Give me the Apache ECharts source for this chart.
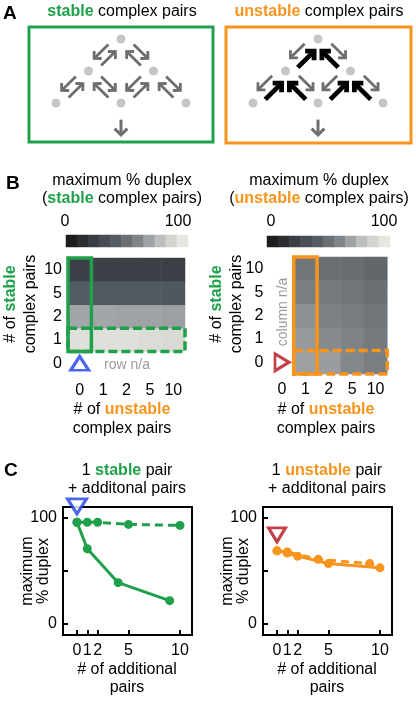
<!DOCTYPE html>
<html><head><meta charset="utf-8">
<script src="https://cdn.jsdelivr.net/npm/echarts@6/dist/echarts.min.js"></script>
<style>html,body{margin:0;padding:0;background:#fff}#c{width:416px;height:702px}</style>
</head><body><div id="c"></div>
<script>
// ---------- data ----------
const pairCats = ['0', '1', '2', '5', '10'];          // # of pairs (heatmap categories)
const stableRowsLeft = [1, 2, 5, 10];                   // stable counts shown in left heatmap
const unstableColsLeft = [0, 1, 2, 5, 10];
const stableMaxDuplex = [                               // rows: stable 1,2,5,10 ; cols: unstable 0,1,2,5,10
  [96, 96, 96, 94, 93],
  [71, 71, 70, 70, 69],
  [39, 38, 38, 38, 37],
  [22, 22, 22, 21, 21]
];
const stableRowsRight = [0, 1, 2, 5, 10];
const unstableColsRight = [1, 2, 5, 10];
const unstableMaxDuplex = [                             // rows: stable 0,1,2,5,10 ; cols: unstable 1,2,5,10
  [69, 68, 61, 57],
  [67, 62, 59, 55],
  [64, 58, 56, 53],
  [57, 55, 53, 50],
  [53, 50, 49, 46]
];
const colorbarValues = [0, 10, 20, 30, 40, 50, 60, 70, 80, 90, 100];
const additionalTicks = [0, 1, 2, 5, 10];
const yTicks = [0, 50, 100];
const yLabels = [0, 100];
const markerStableC = [0, 111];
const markerUnstableC = [0, 84];
// schematic tree (level layout)
const treeNodes = [[0, 0], [-1, 1], [1, 1], [-2, 2], [0, 2], [2, 2]];
const treeEdges = [[0, 1], [0, 2], [1, 3], [1, 4], [2, 4], [2, 5]];
const outflow = [0, 2.52, 0, 3.0];

// ---------- styles ----------
const FF = '"Liberation Sans", Arial, sans-serif';
const GREEN = '#1fa04a', ORANGE = '#f7941d', BLUE = '#1e40e6', DRED = '#b3121c';
const GRAY_ARROW = '#6e6e6e', DOT = '#b8b8b8';
const grayScale = ['#1e1e1e', '#2b2d30', '#3a3e44', '#484d54', '#555b62', '#6a6f73', '#80858a', '#a0a3a5', '#bdbfbe', '#d4d5d0', '#e7e7df'];
const RICH = {
  g: { fill: GREEN, fontWeight: 'bold', fontSize: 16, fontFamily: FF },
  o: { fill: ORANGE, fontWeight: 'bold', fontSize: 16, fontFamily: FF }
};
function T(text, x, y, extra, rot) {
  return { type: 'text', x: x, y: y, rotation: rot || 0, z: 100,
    style: Object.assign({ text: text, fill: '#000', fontSize: 16, fontFamily: FF, align: 'center', verticalAlign: 'middle', rich: RICH }, extra || {}) };
}

// ---------- derived series data ----------
const heatLeft = [];
stableMaxDuplex.forEach((row, r) => row.forEach((v, c) => heatLeft.push([pairCats.indexOf(String(unstableColsLeft[c])), pairCats.indexOf(String(stableRowsLeft[r])), v])));
const heatRight = [];
unstableMaxDuplex.forEach((row, r) => row.forEach((v, c) => heatRight.push([pairCats.indexOf(String(unstableColsRight[c])), pairCats.indexOf(String(stableRowsRight[r])), v])));
const cbarData = colorbarValues.map((v, i) => [i, 0, v]);
// left: solid = add stable pairs (column unstable=0), dashed = add unstable pairs (row stable=1)
const leftSolid = stableRowsLeft.map((s, r) => [s - 1, stableMaxDuplex[r][0]]);
const leftDashed = unstableColsLeft.map((u, c) => [u, stableMaxDuplex[0][c]]);
// right: solid = add stable pairs (column unstable=1), dashed = add unstable pairs (row stable=0)
const rightSolid = stableRowsRight.map((s, r) => [s, unstableMaxDuplex[r][0]]);
const rightDashed = unstableColsRight.map((u, c) => [u - 1, unstableMaxDuplex[0][c]]);

function arrowItems(kind) {
  const d = treeEdges.map(e => [treeNodes[e[0]][0], treeNodes[e[0]][1], treeNodes[e[1]][0], treeNodes[e[1]][1], kind]);
  d.push(outflow.concat([2]));
  return d;
}

// ---------- arrow rendering ----------
function arrowShapes(tail, tip, color, w, hl) {
  const dx = tip[0] - tail[0], dy = tip[1] - tail[1], len = Math.hypot(dx, dy);
  const ux = dx / len, uy = dy / len;
  const rot = (a) => [ux * Math.cos(a) - uy * Math.sin(a), ux * Math.sin(a) + uy * Math.cos(a)];
  const r1 = rot(Math.PI / 4), r2 = rot(-Math.PI / 4);
  const h1 = [tip[0] - hl * r1[0], tip[1] - hl * r1[1]];
  const h2 = [tip[0] - hl * r2[0], tip[1] - hl * r2[1]];
  const shaftEnd = [tip[0] - ux * w * 0.5, tip[1] - uy * w * 0.5];
  return [
    { type: 'polyline', shape: { points: [tail, shaftEnd] }, style: { stroke: color, lineWidth: w, fill: null } },
    { type: 'polyline', shape: { points: [h1, tip, h2] }, style: { stroke: color, lineWidth: w, fill: null, lineJoin: 'miter' } }
  ];
}
function renderArrows(params, api) {
  const p = api.coord([api.value(0), api.value(1)]);
  const c = api.coord([api.value(2), api.value(3)]);
  const kind = api.value(4);
  let children = [];
  if (kind === 2) {
    children = arrowShapes(p, c, GRAY_ARROW, 3, 9);
  } else {
    const mx = (p[0] + c[0]) / 2, my = (p[1] + c[1]) / 2;
    const dx = c[0] - p[0], dy = c[1] - p[1], len = Math.hypot(dx, dy);
    const ux = dx / len, uy = dy / len;
    let nx = uy, ny = -ux; if (ny > 0) { nx = -nx; ny = -ny; }
    const gL = 20, off = kind === 1 ? 6 : 5;
    // away from root (gray, outer side)
    const ac = [mx + nx * off, my + ny * off];
    children = children.concat(arrowShapes([ac[0] - ux * gL / 2, ac[1] - uy * gL / 2], [ac[0] + ux * gL / 2, ac[1] + uy * gL / 2], GRAY_ARROW, 2.8, 7.5));
    // toward root
    const tL = kind === 1 ? 23 : gL;
    const tc = [mx - nx * off, my - ny * off];
    const col = kind === 1 ? '#000' : GRAY_ARROW, w = kind === 1 ? 4.8 : 2.8, hl = kind === 1 ? 9 : 7.5;
    children = children.concat(arrowShapes([tc[0] + ux * tL / 2, tc[1] + uy * tL / 2], [tc[0] - ux * tL / 2, tc[1] - uy * tL / 2], col, w, hl));
  }
  return { type: 'group', children: children };
}
function renderBoxes(color) {
  return function (params, api) {
    const c0 = api.value(0), c1 = api.value(1), r0 = api.value(2), r1 = api.value(3), dashed = api.value(4);
    const tl = api.coord([c0, r1]), br = api.coord([c1, r0]), sz = api.size([1, 1]);
    return { type: 'rect', z2: 10,
      shape: { x: tl[0] - sz[0] / 2, y: tl[1] - sz[1] / 2, width: br[0] - tl[0] + sz[0], height: br[1] - tl[1] + sz[1] },
      style: { fill: 'none', stroke: color, lineWidth: 3.5, lineDash: dashed ? [9, 4] : null } };
  };
}

// ---------- axes ----------
const hidden = { show: false };
function schemX(g) { return { gridIndex: g, type: 'value', min: -2.5, max: 2.5, show: false }; }
function schemY(g) { return { gridIndex: g, type: 'value', min: -0.5, max: 3, inverse: true, show: false }; }
function cbarX(g) { return { gridIndex: g, type: 'category', data: colorbarValues.map(String), show: false }; }
function cbarY(g) { return { gridIndex: g, type: 'category', data: ['c'], show: false }; }
function heatAxis(g, margin) {
  return { gridIndex: g, type: 'category', data: pairCats, axisLine: hidden, axisTick: hidden, splitLine: hidden,
    axisLabel: { fontSize: 16, color: '#000', fontFamily: FF, margin: margin } };
}
function cX(g) {
  return { gridIndex: g, type: 'value', min: -1.36, max: 11.17, splitLine: hidden,
    axisLine: { show: false, onZero: false },
    axisTick: { show: true, inside: true, length: 5, lineStyle: { color: '#000', width: 2 }, customValues: additionalTicks },
    axisLabel: { fontSize: 16, color: '#000', fontFamily: FF, margin: 8, customValues: additionalTicks, hideOverlap: false } };
}
function cY(g) {
  return { gridIndex: g, type: 'value', min: -10.4, max: 110.4, splitLine: hidden,
    axisLine: { show: false, onZero: false },
    axisTick: { show: true, inside: true, length: 5, lineStyle: { color: '#000', width: 2 }, customValues: yTicks },
    axisLabel: { fontSize: 16, color: '#000', fontFamily: FF, margin: 6, customValues: yLabels } };
}
const G = (l, t, w, h, extra) => Object.assign({ left: l, top: t, width: w, height: h, outerBoundsMode: 'none', containLabel: false }, extra || {});

const option = {
  animation: false,
  backgroundColor: '#fff',
  textStyle: { fontFamily: FF },
  grid: [
    G(39.75, 23, 162.5, 112), G(236.75, 23, 162.5, 112),
    G(66, 235, 122, 12), G(267, 236, 123, 11),
    G(68, 258, 117, 117), G(270.3, 257, 117, 117),
    G(63, 507, 129, 128, { show: true, borderColor: '#000', borderWidth: 2, backgroundColor: 'transparent' }),
    G(263, 507, 129, 128, { show: true, borderColor: '#000', borderWidth: 2, backgroundColor: 'transparent' })
  ],
  xAxis: [schemX(0), schemX(1), cbarX(2), cbarX(3), heatAxis(4, 8), heatAxis(5, 8), cX(6), cX(7)],
  yAxis: [schemY(0), schemY(1), cbarY(2), cbarY(3), heatAxis(4, 6), heatAxis(5, 7), cY(6), cY(7)],
  visualMap: { type: 'continuous', show: false, min: 0, max: 100, seriesIndex: [4, 5, 6, 7], inRange: { color: grayScale } },
  series: [
    { type: 'scatter', xAxisIndex: 0, yAxisIndex: 0, data: treeNodes, symbolSize: 9, itemStyle: { color: DOT }, silent: true },
    { type: 'custom', xAxisIndex: 0, yAxisIndex: 0, data: arrowItems(0), renderItem: renderArrows, encode: { x: [0, 2], y: [1, 3] }, silent: true },
    { type: 'scatter', xAxisIndex: 1, yAxisIndex: 1, data: treeNodes, symbolSize: 9, itemStyle: { color: DOT }, silent: true },
    { type: 'custom', xAxisIndex: 1, yAxisIndex: 1, data: arrowItems(1), renderItem: renderArrows, encode: { x: [0, 2], y: [1, 3] }, silent: true },
    { type: 'heatmap', xAxisIndex: 2, yAxisIndex: 2, data: cbarData, silent: true },
    { type: 'heatmap', xAxisIndex: 3, yAxisIndex: 3, data: cbarData, silent: true },
    { type: 'heatmap', xAxisIndex: 4, yAxisIndex: 4, data: heatLeft, silent: true },
    { type: 'heatmap', xAxisIndex: 5, yAxisIndex: 5, data: heatRight, silent: true },
    { type: 'custom', xAxisIndex: 4, yAxisIndex: 4, z: 5, data: [[0, 0, 1, 4, 0], [0, 4, 1, 1, 1]], renderItem: renderBoxes(GREEN), encode: { x: [0, 1], y: [2, 3] }, silent: true },
    { type: 'custom', xAxisIndex: 5, yAxisIndex: 5, z: 5, data: [[1, 1, 0, 4, 0], [1, 4, 0, 0, 1]], renderItem: renderBoxes(ORANGE), encode: { x: [0, 1], y: [2, 3] }, silent: true },
    { type: 'scatter', xAxisIndex: 4, yAxisIndex: 4, z: 6, data: [[0, 0]], symbol: 'triangle', symbolSize: [18, 14], itemStyle: { color: '#fff', borderColor: BLUE, borderWidth: 3 }, silent: true },
    { type: 'scatter', xAxisIndex: 5, yAxisIndex: 5, z: 6, data: [[0, 0]], symbol: 'triangle', symbolRotate: -90, symbolSize: [17, 14], itemStyle: { color: '#fff', borderColor: DRED, borderWidth: 3 }, silent: true },
    { type: 'line', xAxisIndex: 6, yAxisIndex: 6, data: leftSolid, symbol: 'circle', symbolSize: 9, showSymbol: true, itemStyle: { color: GREEN }, lineStyle: { color: GREEN, width: 3 }, silent: true },
    { type: 'line', xAxisIndex: 6, yAxisIndex: 6, data: leftDashed, symbol: 'circle', symbolSize: 9, showSymbol: true, itemStyle: { color: GREEN }, lineStyle: { color: GREEN, width: 3, type: [8, 5] }, silent: true },
    { type: 'line', xAxisIndex: 7, yAxisIndex: 7, data: rightSolid, symbol: 'circle', symbolSize: 9, showSymbol: true, itemStyle: { color: ORANGE }, lineStyle: { color: ORANGE, width: 3 }, silent: true },
    { type: 'line', xAxisIndex: 7, yAxisIndex: 7, data: rightDashed, symbol: 'circle', symbolSize: 9, showSymbol: true, itemStyle: { color: ORANGE }, lineStyle: { color: ORANGE, width: 3, type: [8, 5] }, silent: true },
    { type: 'scatter', xAxisIndex: 6, yAxisIndex: 6, z: 10, clip: false, data: [markerStableC], symbol: 'triangle', symbolRotate: 180, symbolSize: [19, 15], itemStyle: { color: '#fff', borderColor: BLUE, borderWidth: 3 }, silent: true },
    { type: 'scatter', xAxisIndex: 7, yAxisIndex: 7, z: 10, clip: false, data: [markerUnstableC], symbol: 'triangle', symbolRotate: 180, symbolSize: [17, 14], itemStyle: { color: '#fff', borderColor: DRED, borderWidth: 3 }, silent: true }
  ],
  graphic: [
    { type: 'rect', shape: { x: 29, y: 27, width: 184, height: 115 }, style: { fill: 'none', stroke: GREEN, lineWidth: 3 } },
    { type: 'rect', shape: { x: 226, y: 27, width: 185, height: 116 }, style: { fill: 'none', stroke: ORANGE, lineWidth: 3 } },
    T('A', 3, 14, { fontSize: 19, fontWeight: 'bold', align: 'left' }),
    T('{g|stable} complex pairs', 122, 12),
    T('{o|unstable} complex pairs', 319, 12),
    T('B', 6, 184, { fontSize: 19, fontWeight: 'bold', align: 'left' }),
    T('maximum % duplex', 122, 181),
    T('({g|stable} complex pairs)', 122, 199),
    T('maximum % duplex', 319, 181),
    T('({o|unstable} complex pairs)', 319, 199),
    T('0', 65, 222), T('100', 178, 222),
    T('0', 271, 222), T('100', 384, 222),
    T('# of {g|stable}', 11, 304, null, Math.PI / 2),
    T('complex pairs', 31, 304, null, Math.PI / 2),
    T('# of {g|stable}', 217, 304, null, Math.PI / 2),
    T('complex pairs', 237, 304, null, Math.PI / 2),
    T('row n/a', 127, 365, { fontSize: 14, fill: '#9a9a9a' }),
    T('column n/a', 283, 312, { fontSize: 14, fill: '#9a9a9a' }, Math.PI / 2),
    T('# of {o|unstable}', 122, 410),
    T('complex pairs', 122, 429),
    T('# of {o|unstable}', 326, 410),
    T('complex pairs', 326, 429),
    T('C', 4, 471, { fontSize: 19, fontWeight: 'bold', align: 'left' }),
    T('1 {g|stable} pair', 127, 471),
    T('+ additonal pairs', 127, 489),
    T('1 {o|unstable} pair', 327, 471),
    T('+ additonal pairs', 327, 489),
    T('maximum', 28, 571, null, Math.PI / 2),
    T('% duplex', 44, 571, null, Math.PI / 2),
    T('maximum', 228, 571, null, Math.PI / 2),
    T('% duplex', 244, 571, null, Math.PI / 2),
    T('# of additional', 127, 670),
    T('pairs', 127, 688),
    T('# of additional', 327, 670),
    T('pairs', 327, 688)
  ]
};
const chart = echarts.init(document.getElementById('c'), null, { renderer: 'canvas' });
chart.setOption(option);
</script>
</body></html>
